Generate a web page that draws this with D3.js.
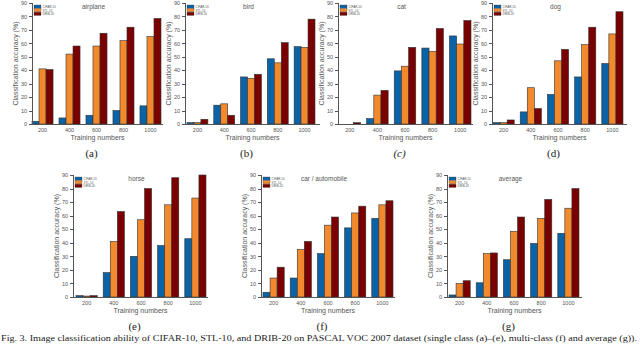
<!DOCTYPE html>
<html lang="en">
<head>
<meta charset="utf-8">
<title>Classification accuracy bars</title>
<script src="https://cdn.jsdelivr.net/npm/d3@7"></script>
<style>
    html, body { margin: 0; padding: 0; background: #fff; }
    svg { display: block; }
    text { font-family: "Liberation Sans", Arial, sans-serif; fill: #555; }
    .axis path, .axis line { stroke: #555; shape-rendering: crispEdges; }
    .serif { font-family: "Liberation Serif", "DejaVu Serif", serif; fill: #222; }
</style>
</head>
<body>
<script>
// data
var trainingNumbers = ["200", "400", "600", "800", "1000"];
var seriesNames = ["CIFAR-10", "STL-10", "DRIB-20"];
var yTicks = [0, 10, 20, 30, 40, 50, 60, 70, 80, 90];
var panelTitles = ["airplane", "bird", "cat", "dog", "horse", "car / automobile", "average"];
var panelLetters = ["(a)", "(b)", "(c)", "(d)", "(e)", "(f)", "(g)"];

var airplane = [[2, 4.5, 6.5, 10, 13.5], [41, 52, 58, 62, 65], [40.5, 58, 67.5, 72, 78.5]];
var bird     = [[1, 14, 35, 48.5, 57.5], [1, 15, 34, 45.5, 57], [3.5, 6.5, 37, 60.5, 78]];
var cat      = [[0, 4, 39.5, 56.5, 65.5], [0, 21.5, 43, 54, 59.5], [1, 25, 57, 71, 77]];
var dog      = [[1, 9, 22, 35, 45], [1, 27, 47, 59, 67], [3, 11.5, 55.5, 72, 83.5]];
var horse    = [[1, 18, 30, 38, 43], [0.7, 41, 57, 68, 73], [1, 63, 80, 88, 90]];
var car      = [[3.5, 14, 32, 51, 58], [14, 35, 53, 62, 68], [22, 41, 59, 67, 71]];
var average  = [[1.5, 10.5, 27.5, 39.5, 47], [10, 32, 48.5, 58, 65.5], [12, 32.5, 59, 72, 80]];

var panelValues = [airplane, bird, cat, dog, horse, car, average];

var colors = ["#0b63a7", "#f28a2d", "#7a0000"];

// pixel layout of each small chart: axis x, axis end, first/last band edge, top, baseline
var layout = [
    {ax: 32,  ae: 163, b0: 32,  b1: 161, top: 3,   bot: 124},
    {ax: 185, ae: 320, b0: 187, b1: 315, top: 3,   bot: 124},
    {ax: 338, ae: 473, b0: 339, b1: 471, top: 3,   bot: 124},
    {ax: 492, ae: 627, b0: 493, b1: 623, top: 3,   bot: 124},
    {ax: 73,  ae: 208, b0: 76,  b1: 206, top: 175, bot: 297},
    {ax: 261, ae: 395, b0: 263, b1: 393, top: 175, bot: 297},
    {ax: 447, ae: 582, b0: 449, b1: 579, top: 175, bot: 297}
];

var svg = d3.select("body").append("svg")
    .attr("width", 640).attr("height", 344);

layout.forEach(function(L, i) {
    var vals = panelValues[i];
    var g = svg.append("g");

    var x = d3.scaleBand().domain(trainingNumbers).range([L.b0, L.b1]).paddingInner(0.22);
    var xs = d3.scaleBand().domain(seriesNames).range([0, x.bandwidth()]);
    var y = d3.scaleLinear().domain([0, 90]).range([L.bot, L.top]);

    // bars
    seriesNames.forEach(function(s, si) {
        g.selectAll(null).data(vals[si]).enter().append("rect")
            .attr("x", function(d, k) { return x(trainingNumbers[k]) + xs(s); })
            .attr("y", function(d) { return y(d); })
            .attr("width", xs.bandwidth())
            .attr("height", function(d) { return L.bot - y(d); })
            .attr("fill", colors[si])
            .attr("stroke", "#333")
            .attr("stroke-width", 0.6);
    });

    // y axis
    var yAxis = d3.axisLeft(y).tickValues(yTicks).tickSize(3).tickPadding(2);
    var ya = g.append("g").attr("class", "axis")
        .attr("transform", "translate(" + L.ax + ",0)")
        .call(yAxis);
    ya.select(".domain").attr("d", "M0," + L.top + "V" + L.bot);
    ya.selectAll("text").style("font-size", "5.5px").style("fill", "#555");

    // x axis
    var xAxis = d3.axisBottom(x).tickSize(0).tickPadding(4);
    var xa = g.append("g").attr("class", "axis")
        .attr("transform", "translate(0," + L.bot + ")")
        .call(xAxis);
    xa.select(".domain").attr("d", "M" + L.ax + ",0H" + L.ae);
    xa.selectAll("text").style("font-size", "5.5px").style("fill", "#555");

    var cx = (L.ax + L.ae) / 2;

    // title
    g.append("text").attr("x", cx - 4).attr("y", L.top + 6)
        .attr("text-anchor", "middle").style("font-size", "6.5px")
        .text(panelTitles[i]);

    // axis titles
    g.append("text").attr("x", cx).attr("y", L.bot + 16)
        .attr("text-anchor", "middle").style("font-size", "7px")
        .text("Training numbers");
    g.append("text")
        .attr("transform", "translate(" + (L.ax - 14) + "," + ((L.top + L.bot) / 2) + ") rotate(-90)")
        .attr("text-anchor", "middle").style("font-size", "7px")
        .text("Classification accuracy (%)");

    // legend
    var lg = g.append("g").attr("transform", "translate(" + (L.ax + 2) + "," + (L.top + 2) + ")");
    seriesNames.forEach(function(s, si) {
        lg.append("rect").attr("x", 0).attr("y", si * 3.6).attr("width", 7).attr("height", 3.2)
            .attr("fill", colors[si]).attr("stroke", "#333").attr("stroke-width", 0.3);
        lg.append("text").attr("x", 8.5).attr("y", si * 3.6 + 2.9)
            .style("font-size", "3px").text(s);
    });

    // sub-figure letter
    g.append("text").attr("class", "serif")
        .attr("x", cx - 6).attr("y", L.bot + 33)
        .attr("text-anchor", "middle").style("font-size", "11px")
        .style("font-style", i === 2 ? "italic" : "normal")
        .text(panelLetters[i]);
});

svg.append("text").attr("class", "serif")
    .attr("x", 1).attr("y", 341)
    .attr("textLength", 636).attr("lengthAdjust", "spacingAndGlyphs")
    .style("font-size", "9px")
    .text("Fig. 3.  Image classification ability of CIFAR-10, STL-10, and DRIB-20 on PASCAL VOC 2007 dataset (single class (a)\u2013(e), multi-class (f) and average (g)).");
</script>
</body>
</html>
